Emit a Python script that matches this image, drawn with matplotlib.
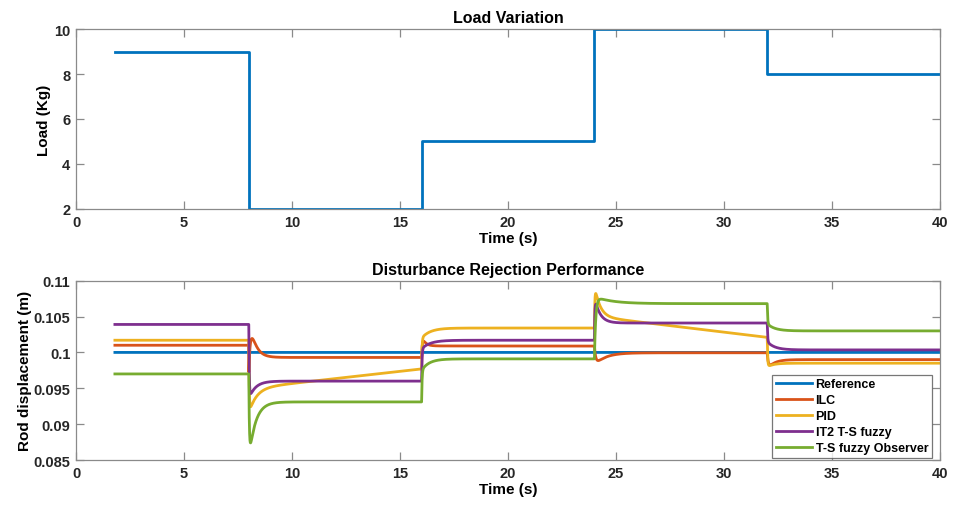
import numpy as np
import matplotlib
matplotlib.use("Agg")
import matplotlib.pyplot as plt
from matplotlib.ticker import FuncFormatter

plt.rcParams["font.family"] = ["Liberation Sans", "DejaVu Sans"]
plt.rcParams["font.weight"] = "bold"

# ---- data -------------------------------------------------------------
t_begin, t_stop = 1.8, 40.0
switch_times = [8, 16, 24, 32]
load_kg = [9, 2, 5, 10, 8]

series_names = ["Reference", "ILC", "PID", "IT2 T-S fuzzy", "T-S fuzzy Observer"]

# settled displacement at the start / end of each interval between load changes
ref_level = [0.1, 0.1, 0.1, 0.1, 0.1]
ilc_level = [0.1010, 0.0993, 0.1009, 0.09995, 0.0990]
pid_level = [0.1017, 0.0950, 0.1034, 0.1050, 0.0985]
pid_level_end = [0.1017, 0.0977, 0.1034, 0.1021, 0.0985]
it2_level = [0.1039, 0.0960, 0.1017, 0.1041, 0.10035]
obs_level = [0.0970, 0.0931, 0.0991, 0.1068, 0.1030]

# transient after each load change: initial excursion, decay time (s)
ilc_start = [0.1060, 0.1024, 0.0982, 0.0976]
ilc_tau = [0.25, 0.15, 0.5, 0.3]
ilc_jump = [0.0972, None, None, None]
pid_start = [0.0915, 0.1020, 0.1095, 0.0980]
pid_tau = [0.35, 0.4, 0.25, 0.3]
it2_start = [0.0935, 0.1005, 0.1078, 0.1015]
it2_tau = [0.3, 0.4, 0.25, 0.35]
obs_start = [0.0850, 0.0975, 0.1078, 0.1040]
obs_tau = [0.3, 0.35, 0.8, 0.35]

colors = ["#0072BD", "#D95319", "#EDB120", "#7E2F8E", "#77AC30"]


def build_response(t, level, level_end=None, start=None, tau=None,
                   jump=None, tau_fast=0.03):
    """Piecewise response: fast jump, exponential settling, linear drift."""
    if level_end is None:
        level_end = level
    bounds = [t_begin] + switch_times + [t_stop]
    y = np.empty_like(t)
    prev_end = level[0]
    for k in range(len(level)):
        a, b = bounds[k], bounds[k + 1]
        m = (t >= a) & (t <= b)
        dt = t[m] - a
        drift = (level_end[k] - level[k]) / (b - a)
        base = level[k] + drift * dt
        if k == 0 or start is None:
            y[m] = base
        else:
            s = start[k - 1]
            tf = tau[k - 1]
            j = prev_end
            if jump is not None and jump[k - 1] is not None:
                j = jump[k - 1]
            fast = tau_fast if not isinstance(tau_fast, list) else tau_fast[k - 1]
            y[m] = base + (s - level[k]) * np.exp(-dt / tf) + (j - s) * np.exp(-dt / fast)
        prev_end = level_end[k]
    return y


t = np.linspace(t_begin, t_stop, 16000)
responses = [
    build_response(t, ref_level),
    build_response(t, ilc_level, start=ilc_start, tau=ilc_tau, jump=ilc_jump,
                   tau_fast=[0.07, 0.03, 0.06, 0.05]),
    build_response(t, pid_level, pid_level_end, pid_start, pid_tau, tau_fast=0.02),
    build_response(t, it2_level, start=it2_start, tau=it2_tau, tau_fast=0.02),
    build_response(t, obs_level, start=obs_start, tau=obs_tau,
                   tau_fast=[0.025, 0.02, 0.06, 0.02]),
]

load_t = [t_begin] + switch_times + [t_stop]
load_y = load_kg + [load_kg[-1]]

# ---- figure -----------------------------------------------------------
fig = plt.figure(figsize=(9.55, 5.06), dpi=100)
ax1 = fig.add_axes([0.0796, 0.585, 0.9047, 0.3557])
ax2 = fig.add_axes([0.0796, 0.0889, 0.9047, 0.3544])

spine_c = "#8a8a8a"
for ax in (ax1, ax2):
    for sp in ax.spines.values():
        sp.set_color(spine_c)
        sp.set_linewidth(0.9)
    ax.tick_params(direction="in", length=6, width=0.9, color=spine_c,
                   top=True, right=True, labelsize=10.5, pad=4,
                   labelcolor="#262626")
    ax.set_xlim(0, 40)
    ax.set_xticks([0, 5, 10, 15, 20, 25, 30, 35, 40])

ax1.step(load_t, load_y, where="post", color=colors[0], lw=2.0)
ax1.set_ylim(2, 10)
ax1.set_yticks([2, 4, 6, 8, 10])
ax1.set_title("Load Variation", fontsize=11.5, fontweight="bold", pad=5)
ax1.set_xlabel("Time (s)", fontsize=11, fontweight="bold", labelpad=2)
ax1.set_ylabel("Load (Kg)", fontsize=11, fontweight="bold", labelpad=2)

for y, name, c in zip(responses, series_names, colors):
    ax2.plot(t, y, color=c, lw=2.0, label=name)
ax2.set_ylim(0.085, 0.11)
ax2.set_yticks([0.085, 0.09, 0.095, 0.1, 0.105, 0.11])
ax2.yaxis.set_major_formatter(FuncFormatter(lambda v, p: f"{v:g}"))
ax2.set_title("Disturbance Rejection Performance", fontsize=11.5,
              fontweight="bold", pad=5)
ax2.set_xlabel("Time (s)", fontsize=11, fontweight="bold", labelpad=2)
ax2.set_ylabel("Rod displacement (m)", fontsize=11, fontweight="bold", labelpad=1)

for ax in (ax1, ax2):
    for lbl in ax.get_xticklabels() + ax.get_yticklabels():
        lbl.set_fontweight("bold")

leg = ax2.legend(loc="lower right", bbox_to_anchor=(0.9907, 0.011),
                 prop={"weight": "bold", "size": 9},
                 frameon=True, fancybox=False, borderpad=0.3,
                 labelspacing=0.32, handlelength=2.9, handletextpad=0.25,
                 borderaxespad=0.0)
leg.get_frame().set_edgecolor("#555555")
leg.get_frame().set_linewidth(0.9)

fig.savefig("out.png", dpi=100)
